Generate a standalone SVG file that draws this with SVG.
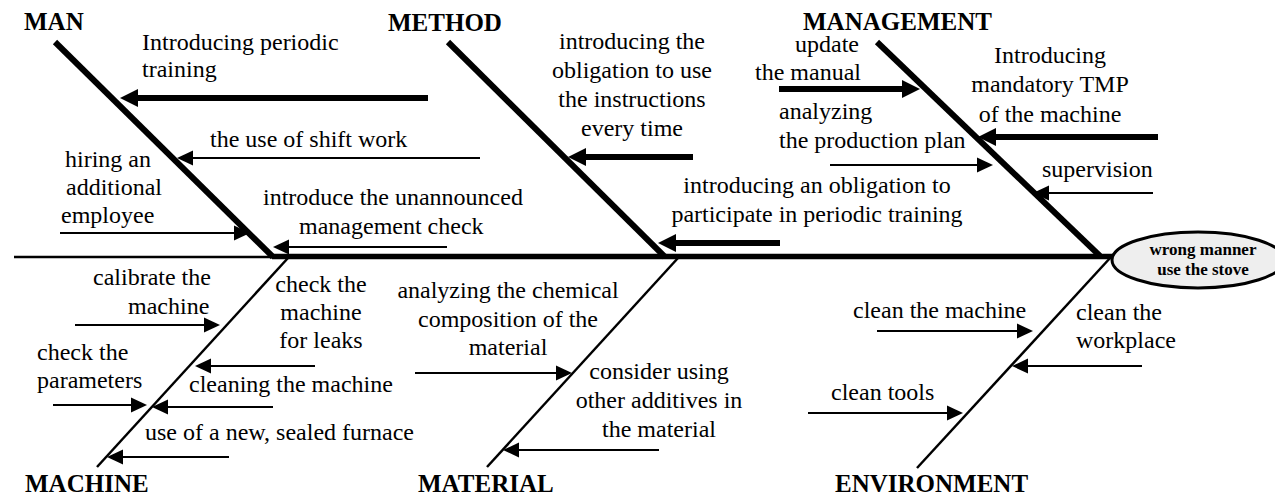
<svg xmlns="http://www.w3.org/2000/svg" width="1275" height="498" viewBox="0 0 1275 498" font-family="'Liberation Serif', 'DejaVu Serif', serif">
<style>
text{font-family:'Liberation Serif','DejaVu Serif',serif;font-size:24px;fill:#000}
.h{font-weight:bold;font-size:25px}
.m{text-anchor:middle}
.e{font-weight:bold;font-size:17px;text-anchor:middle}
.bk{stroke:#000;stroke-width:6;fill:none}
.bn{stroke:#000;stroke-width:2.5;fill:none}
.tk{stroke:#000;stroke-width:6;fill:none;marker-end:url(#tk)}
.tn{stroke:#000;stroke-width:2;fill:none;marker-end:url(#tn)}
</style>
<defs>
<marker id="tk" viewBox="0 -9 18 18" refX="0" refY="0" markerWidth="18" markerHeight="18" markerUnits="userSpaceOnUse" orient="auto"><path d="M0,-9 L18,0 L0,9 z" fill="#000"/></marker>
<marker id="tn" viewBox="0 -8 16 16" refX="0" refY="0" markerWidth="16" markerHeight="16" markerUnits="userSpaceOnUse" orient="auto"><path d="M0,-7.5 L16,0 L0,7.5 z" fill="#000"/></marker>
</defs>
<rect width="1275" height="498" fill="#fff"/>
<g id="connectors">
<line class="bn" x1="14" y1="257" x2="274" y2="257"/>
<line x1="272" y1="256.5" x2="1113" y2="256.5" stroke="#000" stroke-width="5.5"/>
<line class="bk" x1="55" y1="42" x2="273" y2="257"/>
<line class="bk" x1="448" y1="42" x2="665" y2="257"/>
<line class="bk" x1="877" y1="42" x2="1100" y2="256"/>
<line class="bn" x1="288" y1="258" x2="97" y2="467"/>
<line class="bn" x1="678" y1="258" x2="487" y2="467"/>
<line class="bn" x1="1111" y1="257" x2="917" y2="468"/>
<line class="tk" x1="428" y1="98" x2="138" y2="98"/>
<line class="tk" x1="693" y1="157" x2="586" y2="157"/>
<line class="tk" x1="780" y1="243" x2="676" y2="243"/>
<line class="tk" x1="779" y1="89" x2="902" y2="89"/>
<line class="tk" x1="1158" y1="137" x2="996" y2="137"/>
<line class="tn" x1="480" y1="158" x2="193" y2="158"/>
<line class="tn" x1="60" y1="233" x2="234" y2="233"/>
<line class="tn" x1="447" y1="247" x2="289" y2="247"/>
<line class="tn" x1="830" y1="165" x2="977" y2="165"/>
<line class="tn" x1="1153" y1="193" x2="1049" y2="193"/>
<line class="tn" x1="75" y1="325" x2="204" y2="325"/>
<line class="tn" x1="53" y1="405" x2="131" y2="405"/>
<line class="tn" x1="315" y1="366" x2="211" y2="366"/>
<line class="tn" x1="273" y1="407" x2="168" y2="407"/>
<line class="tn" x1="229" y1="457" x2="123" y2="457"/>
<line class="tn" x1="415" y1="373" x2="556" y2="373"/>
<line class="tn" x1="659" y1="450" x2="519" y2="450"/>
<line class="tn" x1="877" y1="331" x2="1017" y2="331"/>
<line class="tn" x1="1142" y1="366" x2="1028" y2="366"/>
<line class="tn" x1="808" y1="413" x2="947" y2="413"/>
</g>
<g id="effect">
<ellipse cx="1198" cy="260" rx="86" ry="28" fill="#eeeeee" stroke="#000" stroke-width="3"/>
<text class="e" x="1203" y="255">wrong manner</text>
<text class="e" x="1203" y="275">use the stove</text>
</g>
<g id="man">
<text class="h" x="24" y="30">MAN</text>
<text x="142" y="50">Introducing periodic</text>
<text x="142" y="77">training</text>
<text x="210" y="147">the use of shift work</text>
<text x="65" y="167">hiring an</text>
<text x="66" y="195">additional</text>
<text x="61" y="223">employee</text>
<text x="263" y="205">introduce the unannounced</text>
<text x="299" y="234">management check</text>
</g>
<g id="method">
<text class="h" x="388" y="31">METHOD</text>
<text class="m" x="632" y="49">introducing the</text>
<text class="m" x="632" y="78">obligation to use</text>
<text class="m" x="632" y="107">the instructions</text>
<text class="m" x="632" y="136">every time</text>
<text class="m" x="817" y="193">introducing an obligation to</text>
<text class="m" x="817" y="222">participate in periodic training</text>
</g>
<g id="management">
<text class="h" x="803" y="30">MANAGEMENT</text>
<text x="795" y="52">update</text>
<text x="755" y="80">the manual</text>
<text class="m" x="1050" y="63">Introducing</text>
<text class="m" x="1050" y="92">mandatory TMP</text>
<text class="m" x="1050" y="122">of the machine</text>
<text x="779" y="119">analyzing</text>
<text x="779" y="148">the production plan</text>
<text x="1042" y="177">supervision</text>
</g>
<g id="machine">
<text class="h" x="25" y="492">MACHINE</text>
<text x="93" y="285">calibrate the</text>
<text x="128" y="314">machine</text>
<text x="37" y="360">check the</text>
<text x="37" y="388">parameters</text>
<text class="m" x="321" y="292">check the</text>
<text class="m" x="321" y="320">machine</text>
<text class="m" x="321" y="348">for leaks</text>
<text x="189" y="392">cleaning the machine</text>
<text x="145" y="440">use of a new, sealed furnace</text>
</g>
<g id="material">
<text class="h" x="418" y="492">MATERIAL</text>
<text class="m" x="508" y="298">analyzing the chemical</text>
<text class="m" x="508" y="327">composition of the</text>
<text class="m" x="508" y="355">material</text>
<text class="m" x="659" y="379">consider using</text>
<text class="m" x="659" y="408">other additives in</text>
<text class="m" x="659" y="437">the material</text>
</g>
<g id="environment">
<text class="h" x="835" y="492">ENVIRONMENT</text>
<text x="853" y="318">clean the machine</text>
<text x="1076" y="320">clean the</text>
<text x="1076" y="348">workplace</text>
<text x="831" y="400">clean tools</text>
</g>
</svg>
